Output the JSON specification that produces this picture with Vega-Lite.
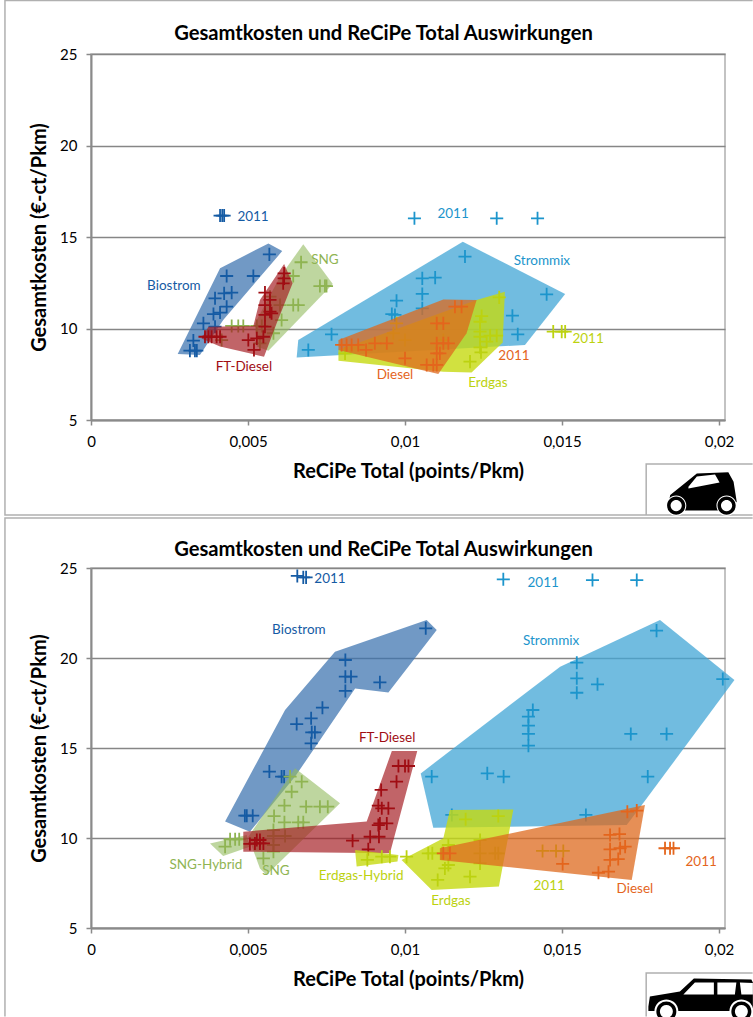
{"$schema":"https://vega.github.io/schema/vega-lite/v6.json","padding":{"left":1,"top":-4,"right":0,"bottom":0},"spacing":-5,"background":"white",
"config":{"font":"Lato","view":{"stroke":"#b0b0b0","strokeWidth":1.5},"axis":{"labelFont":"Lato","titleFont":"Lato"}},
"datasets":{
"pts1":[
{"g":"Biostrom","x":0.00568,"y":14.05},{"g":"Biostrom","x":0.00432,"y":12.87},{"g":"Biostrom","x":0.00517,"y":12.87},{"g":"Biostrom","x":0.00448,"y":11.96},{"g":"Biostrom","x":0.00424,"y":11.92},{"g":"Biostrom","x":0.00395,"y":11.65},{"g":"Biostrom","x":0.00432,"y":11.19},{"g":"Biostrom","x":0.00411,"y":10.87},{"g":"Biostrom","x":0.0039,"y":10.79},{"g":"Biostrom","x":0.00358,"y":10.28},{"g":"Biostrom","x":0.00395,"y":10.1},{"g":"Biostrom","x":0.00326,"y":9.34},{"g":"Biostrom","x":0.00315,"y":8.79},{"g":"Biostrom","x":0.00337,"y":8.79},{"g":"Biostrom","x":0.00331,"y":8.79},{"g":"Biostrom","x":0.00411,"y":16.17},{"g":"Biostrom","x":0.00424,"y":16.17},{"g":"Biostrom","x":0.00418,"y":16.17},
{"g":"Strommix","x":0.00692,"y":8.83},{"g":"Strommix","x":0.00766,"y":9.68},{"g":"Strommix","x":0.00958,"y":10.79},{"g":"Strommix","x":0.00968,"y":10.74},{"g":"Strommix","x":0.00973,"y":11.52},{"g":"Strommix","x":0.01055,"y":12.74},{"g":"Strommix","x":0.01096,"y":12.78},{"g":"Strommix","x":0.01055,"y":11.89},{"g":"Strommix","x":0.01055,"y":11.1},{"g":"Strommix","x":0.01191,"y":13.93},{"g":"Strommix","x":0.01451,"y":11.87},{"g":"Strommix","x":0.01342,"y":10.7},{"g":"Strommix","x":0.01359,"y":9.68},{"g":"Strommix","x":0.0103,"y":16.02},{"g":"Strommix","x":0.01292,"y":16.02},{"g":"Strommix","x":0.01422,"y":16.02},
{"g":"SNG","x":0.00669,"y":13.62},{"g":"SNG","x":0.00729,"y":12.32},{"g":"SNG","x":0.0075,"y":12.32},{"g":"SNG","x":0.00745,"y":12.32},{"g":"SNG","x":0.0066,"y":11.28},{"g":"SNG","x":0.00644,"y":11.28},{"g":"SNG","x":0.00607,"y":10.46},{"g":"SNG","x":0.00581,"y":9.74},{"g":"SNG","x":0.00469,"y":10.14},{"g":"SNG","x":0.00448,"y":10.14},{"g":"SNG","x":0.00485,"y":10.14},{"g":"SNG","x":0.00544,"y":10.14},{"g":"SNG","x":0.00538,"y":9.19},{"g":"SNG","x":0.00416,"y":9.37},{"g":"SNG","x":0.00644,"y":12.87},{"g":"SNG","x":0.00602,"y":11.28},{"g":"SNG","x":0.0057,"y":11.74},{"g":"SNG","x":0.00528,"y":10.14},
{"g":"FT-Diesel","x":0.00615,"y":13.01},{"g":"FT-Diesel","x":0.00615,"y":12.74},{"g":"FT-Diesel","x":0.00612,"y":12.47},{"g":"FT-Diesel","x":0.00554,"y":11.96},{"g":"FT-Diesel","x":0.0057,"y":11.56},{"g":"FT-Diesel","x":0.00554,"y":11.28},{"g":"FT-Diesel","x":0.0057,"y":10.92},{"g":"FT-Diesel","x":0.00554,"y":10.74},{"g":"FT-Diesel","x":0.00575,"y":10.83},{"g":"FT-Diesel","x":0.00554,"y":10.1},{"g":"FT-Diesel","x":0.00549,"y":9.55},{"g":"FT-Diesel","x":0.00501,"y":9.37},{"g":"FT-Diesel","x":0.00528,"y":9.46},{"g":"FT-Diesel","x":0.00519,"y":8.83},{"g":"FT-Diesel","x":0.00374,"y":9.55},{"g":"FT-Diesel","x":0.00384,"y":9.55},{"g":"FT-Diesel","x":0.004,"y":9.55},{"g":"FT-Diesel","x":0.00411,"y":9.55},{"g":"FT-Diesel","x":0.00363,"y":9.55},
{"g":"Erdgas","x":0.013,"y":11.7},{"g":"Erdgas","x":0.01244,"y":10.68},{"g":"Erdgas","x":0.01239,"y":10.37},{"g":"Erdgas","x":0.01239,"y":9.83},{"g":"Erdgas","x":0.01239,"y":9.55},{"g":"Erdgas","x":0.01239,"y":8.97},{"g":"Erdgas","x":0.01242,"y":8.7},{"g":"Erdgas","x":0.01207,"y":8.19},{"g":"Erdgas","x":0.01292,"y":9.61},{"g":"Erdgas","x":0.01271,"y":9.61},{"g":"Erdgas","x":0.0126,"y":9.28},{"g":"Erdgas","x":0.00809,"y":8.64},{"g":"Erdgas","x":0.01472,"y":9.83},{"g":"Erdgas","x":0.01499,"y":9.83},{"g":"Erdgas","x":0.0151,"y":9.83},{"g":"Erdgas","x":0.00973,"y":10.28},{"g":"Erdgas","x":0.00963,"y":9.74},{"g":"Erdgas","x":0.01122,"y":9.37},{"g":"Erdgas","x":0.01,"y":9.37},
{"g":"Diesel","x":0.00798,"y":9.1},{"g":"Diesel","x":0.00814,"y":9.1},{"g":"Diesel","x":0.0083,"y":9.1},{"g":"Diesel","x":0.00851,"y":9.1},{"g":"Diesel","x":0.00876,"y":8.83},{"g":"Diesel","x":0.00904,"y":9.19},{"g":"Diesel","x":0.00942,"y":9.19},{"g":"Diesel","x":0.01,"y":8.37},{"g":"Diesel","x":0.01069,"y":8.01},{"g":"Diesel","x":0.0109,"y":8.01},{"g":"Diesel","x":0.01101,"y":8.01},{"g":"Diesel","x":0.01111,"y":8.64},{"g":"Diesel","x":0.01101,"y":8.64},{"g":"Diesel","x":0.01122,"y":10.28},{"g":"Diesel","x":0.01101,"y":10.28},{"g":"Diesel","x":0.01122,"y":9.19},{"g":"Diesel","x":0.01101,"y":9.19},{"g":"Diesel","x":0.01138,"y":9.19},{"g":"Diesel","x":0.01159,"y":11.19},{"g":"Diesel","x":0.0118,"y":11.19}
],
"pts2":[
{"g":"Biostrom","x":0.01066,"y":21.65},{"g":"Biostrom","x":0.0081,"y":19.89},{"g":"Biostrom","x":0.0081,"y":18.96},{"g":"Biostrom","x":0.00828,"y":18.96},{"g":"Biostrom","x":0.0092,"y":18.65},{"g":"Biostrom","x":0.0081,"y":18.17},{"g":"Biostrom","x":0.00737,"y":17.24},{"g":"Biostrom","x":0.00701,"y":16.65},{"g":"Biostrom","x":0.00655,"y":16.33},{"g":"Biostrom","x":0.00713,"y":15.87},{"g":"Biostrom","x":0.00703,"y":15.87},{"g":"Biostrom","x":0.00701,"y":15.26},{"g":"Biostrom","x":0.00568,"y":13.69},{"g":"Biostrom","x":0.00615,"y":13.41},{"g":"Biostrom","x":0.00607,"y":13.41},{"g":"Biostrom","x":0.00496,"y":11.24},{"g":"Biostrom","x":0.00515,"y":11.24},{"g":"Biostrom","x":0.0049,"y":11.24},{"g":"Biostrom","x":0.00657,"y":24.56},{"g":"Biostrom","x":0.00676,"y":24.48},{"g":"Biostrom","x":0.00685,"y":24.48},
{"g":"Strommix","x":0.01313,"y":24.37},{"g":"Strommix","x":0.01597,"y":24.33},{"g":"Strommix","x":0.01738,"y":24.33},{"g":"Strommix","x":0.01801,"y":21.52},{"g":"Strommix","x":0.01547,"y":19.74},{"g":"Strommix","x":0.01547,"y":18.87},{"g":"Strommix","x":0.01547,"y":18.07},{"g":"Strommix","x":0.01613,"y":18.54},{"g":"Strommix","x":0.02012,"y":18.83},{"g":"Strommix","x":0.01407,"y":17.11},{"g":"Strommix","x":0.01393,"y":16.74},{"g":"Strommix","x":0.01393,"y":16.24},{"g":"Strommix","x":0.01393,"y":15.78},{"g":"Strommix","x":0.01393,"y":15.13},{"g":"Strommix","x":0.01719,"y":15.78},{"g":"Strommix","x":0.01833,"y":15.78},{"g":"Strommix","x":0.01085,"y":13.41},{"g":"Strommix","x":0.01262,"y":13.59},{"g":"Strommix","x":0.01314,"y":13.41},{"g":"Strommix","x":0.01773,"y":13.41},{"g":"Strommix","x":0.01149,"y":11.28},{"g":"Strommix","x":0.01576,"y":11.28},
{"g":"SNG","x":0.00634,"y":13.41},{"g":"SNG","x":0.00671,"y":13.13},{"g":"SNG","x":0.00639,"y":12.57},{"g":"SNG","x":0.00616,"y":11.8},{"g":"SNG","x":0.00685,"y":11.74},{"g":"SNG","x":0.00729,"y":11.74},{"g":"SNG","x":0.00754,"y":11.74},{"g":"SNG","x":0.00583,"y":11.22},{"g":"SNG","x":0.00616,"y":10.87},{"g":"SNG","x":0.0066,"y":10.87},{"g":"SNG","x":0.00676,"y":10.87},{"g":"SNG","x":0.00581,"y":10.44},{"g":"SNG","x":0.00618,"y":10.11},{"g":"SNG","x":0.00581,"y":10.11},{"g":"SNG","x":0.00581,"y":9.61},{"g":"SNG","x":0.00581,"y":9.24},{"g":"SNG","x":0.00549,"y":8.87},
{"g":"SNG-Hybrid","x":0.00427,"y":9.52},{"g":"SNG-Hybrid","x":0.00443,"y":9.93},{"g":"SNG-Hybrid","x":0.00472,"y":9.93},{"g":"SNG-Hybrid","x":0.00459,"y":9.93},
{"g":"FT-Diesel","x":0.00979,"y":14},{"g":"FT-Diesel","x":0.01,"y":14},{"g":"FT-Diesel","x":0.01011,"y":14},{"g":"FT-Diesel","x":0.00973,"y":13.13},{"g":"FT-Diesel","x":0.00924,"y":12.67},{"g":"FT-Diesel","x":0.00915,"y":11.8},{"g":"FT-Diesel","x":0.00947,"y":11.65},{"g":"FT-Diesel","x":0.00926,"y":11.65},{"g":"FT-Diesel","x":0.0092,"y":10.81},{"g":"FT-Diesel","x":0.00942,"y":10.81},{"g":"FT-Diesel","x":0.00915,"y":10.72},{"g":"FT-Diesel","x":0.00917,"y":10.07},{"g":"FT-Diesel","x":0.00889,"y":10.07},{"g":"FT-Diesel","x":0.00833,"y":9.85},{"g":"FT-Diesel","x":0.00883,"y":9.37},{"g":"FT-Diesel","x":0.00506,"y":9.67},{"g":"FT-Diesel","x":0.00522,"y":9.7},{"g":"FT-Diesel","x":0.00538,"y":9.7},{"g":"FT-Diesel","x":0.00549,"y":9.7},{"g":"FT-Diesel","x":0.00528,"y":9.89},{"g":"FT-Diesel","x":0.00538,"y":9.89},
{"g":"Erdgas-Hybrid","x":0.0088,"y":8.78},{"g":"Erdgas-Hybrid","x":0.00926,"y":8.96},{"g":"Erdgas-Hybrid","x":0.00952,"y":8.96},{"g":"Erdgas-Hybrid","x":0.01005,"y":8.96},
{"g":"Erdgas","x":0.01087,"y":9.15},{"g":"Erdgas","x":0.01074,"y":9.15},{"g":"Erdgas","x":0.01117,"y":9.15},{"g":"Erdgas","x":0.01138,"y":9.61},{"g":"Erdgas","x":0.01193,"y":11.04},{"g":"Erdgas","x":0.01297,"y":11.22},{"g":"Erdgas","x":0.01239,"y":9.89},{"g":"Erdgas","x":0.01239,"y":9.15},{"g":"Erdgas","x":0.01239,"y":8.59},{"g":"Erdgas","x":0.01287,"y":9.15},{"g":"Erdgas","x":0.01297,"y":9.15},{"g":"Erdgas","x":0.01138,"y":8.5},{"g":"Erdgas","x":0.01127,"y":8.31},{"g":"Erdgas","x":0.01207,"y":7.85},{"g":"Erdgas","x":0.01104,"y":7.67},{"g":"Erdgas","x":0.01438,"y":9.28},{"g":"Erdgas","x":0.01481,"y":9.28},{"g":"Erdgas","x":0.01504,"y":9.28},
{"g":"Diesel","x":0.01122,"y":9.15},{"g":"Diesel","x":0.01143,"y":9.15},{"g":"Diesel","x":0.01708,"y":11.46},{"g":"Diesel","x":0.01738,"y":11.52},{"g":"Diesel","x":0.01502,"y":8.56},{"g":"Diesel","x":0.01653,"y":10.17},{"g":"Diesel","x":0.01683,"y":10.22},{"g":"Diesel","x":0.01653,"y":9.37},{"g":"Diesel","x":0.01685,"y":9.43},{"g":"Diesel","x":0.01701,"y":9.52},{"g":"Diesel","x":0.01653,"y":8.78},{"g":"Diesel","x":0.01679,"y":8.83},{"g":"Diesel","x":0.01616,"y":8.07},{"g":"Diesel","x":0.01648,"y":8.13},{"g":"Diesel","x":0.01828,"y":9.43},{"g":"Diesel","x":0.01844,"y":9.43},{"g":"Diesel","x":0.01855,"y":9.43}
],
"poly1":[
{"g":"Strommix","o":1,"x":0.0066,"y":9.37},{"g":"Strommix","o":2,"x":0.01184,"y":14.74},{"g":"Strommix","o":3,"x":0.0151,"y":11.89},{"g":"Strommix","o":4,"x":0.01382,"y":9.1},{"g":"Strommix","o":5,"x":0.00655,"y":8.41},
{"g":"Biostrom","o":1,"x":0.00276,"y":8.61},{"g":"Biostrom","o":2,"x":0.00411,"y":13.29},{"g":"Biostrom","o":3,"x":0.00565,"y":14.65},{"g":"Biostrom","o":4,"x":0.00609,"y":14.23},{"g":"Biostrom","o":5,"x":0.00421,"y":10.46},{"g":"Biostrom","o":6,"x":0.00347,"y":8.55},
{"g":"SNG","o":1,"x":0.00676,"y":14.6},{"g":"SNG","o":2,"x":0.0077,"y":12.43},{"g":"SNG","o":3,"x":0.00565,"y":8.79},{"g":"SNG","o":4,"x":0.00528,"y":9.01},{"g":"SNG","o":5,"x":0.00522,"y":10.28},{"g":"SNG","o":6,"x":0.00602,"y":12.83},
{"g":"FT-Diesel","o":1,"x":0.00615,"y":13.52},{"g":"FT-Diesel","o":2,"x":0.00642,"y":12.47},{"g":"FT-Diesel","o":3,"x":0.00591,"y":10.28},{"g":"FT-Diesel","o":4,"x":0.00551,"y":8.46},{"g":"FT-Diesel","o":5,"x":0.00411,"y":9.01},{"g":"FT-Diesel","o":6,"x":0.00352,"y":9.46},{"g":"FT-Diesel","o":7,"x":0.00374,"y":10.1},{"g":"FT-Diesel","o":8,"x":0.00517,"y":10.14},{"g":"FT-Diesel","o":9,"x":0.00538,"y":11.56},
{"g":"Erdgas","o":1,"x":0.00788,"y":8.83},{"g":"Erdgas","o":2,"x":0.01228,"y":11.56},{"g":"Erdgas","o":3,"x":0.01318,"y":12.01},{"g":"Erdgas","o":4,"x":0.01311,"y":9.23},{"g":"Erdgas","o":5,"x":0.01212,"y":7.59},{"g":"Erdgas","o":6,"x":0.01122,"y":7.64},{"g":"Erdgas","o":7,"x":0.00788,"y":8.24},
{"g":"Diesel","o":1,"x":0.00788,"y":9.37},{"g":"Diesel","o":2,"x":0.01122,"y":11.59},{"g":"Diesel","o":3,"x":0.01228,"y":11.56},{"g":"Diesel","o":4,"x":0.01196,"y":9.74},{"g":"Diesel","o":5,"x":0.01106,"y":7.51},{"g":"Diesel","o":6,"x":0.00788,"y":8.83}
],
"poly2":[
{"g":"Strommix","o":1,"x":0.0105,"y":13.59},{"g":"Strommix","o":2,"x":0.01494,"y":19.52},{"g":"Strommix","o":3,"x":0.01812,"y":22.11},{"g":"Strommix","o":4,"x":0.02049,"y":18.78},{"g":"Strommix","o":5,"x":0.01754,"y":11.83},{"g":"Strommix","o":6,"x":0.01706,"y":10.72},{"g":"Strommix","o":7,"x":0.0109,"y":10.57},
{"g":"Biostrom","o":1,"x":0.00427,"y":10.91},{"g":"Biostrom","o":2,"x":0.00618,"y":17.11},{"g":"Biostrom","o":3,"x":0.00777,"y":20.35},{"g":"Biostrom","o":4,"x":0.01069,"y":22.11},{"g":"Biostrom","o":5,"x":0.01101,"y":21.56},{"g":"Biostrom","o":6,"x":0.00947,"y":18.09},{"g":"Biostrom","o":7,"x":0.00841,"y":18.31},{"g":"Biostrom","o":8,"x":0.0065,"y":13.41},{"g":"Biostrom","o":9,"x":0.00506,"y":10.35},
{"g":"SNG","o":1,"x":0.0065,"y":13.87},{"g":"SNG","o":2,"x":0.00793,"y":11.93},{"g":"SNG","o":3,"x":0.00559,"y":7.94},{"g":"SNG","o":4,"x":0.00538,"y":8.31},{"g":"SNG","o":5,"x":0.00501,"y":10.07},{"g":"SNG","o":6,"x":0.00581,"y":12.11},
{"g":"SNG-Hybrid","o":1,"x":0.00379,"y":9.7},{"g":"SNG-Hybrid","o":2,"x":0.00496,"y":10.17},{"g":"SNG-Hybrid","o":3,"x":0.00506,"y":9.52},{"g":"SNG-Hybrid","o":4,"x":0.00421,"y":9},
{"g":"FT-Diesel","o":1,"x":0.00485,"y":10.35},{"g":"FT-Diesel","o":2,"x":0.00878,"y":10.91},{"g":"FT-Diesel","o":3,"x":0.00958,"y":14.83},{"g":"FT-Diesel","o":4,"x":0.01039,"y":14.83},{"g":"FT-Diesel","o":5,"x":0.00952,"y":9.15},{"g":"FT-Diesel","o":6,"x":0.00485,"y":9.24},
{"g":"Erdgas-Hybrid","o":1,"x":0.00841,"y":9.33},{"g":"Erdgas-Hybrid","o":2,"x":0.00979,"y":9.06},{"g":"Erdgas-Hybrid","o":3,"x":0.00976,"y":8.69},{"g":"Erdgas-Hybrid","o":4,"x":0.00846,"y":8.41},
{"g":"Erdgas","o":1,"x":0.00989,"y":8.78},{"g":"Erdgas","o":2,"x":0.01122,"y":9.98},{"g":"Erdgas","o":3,"x":0.01143,"y":11.56},{"g":"Erdgas","o":4,"x":0.01345,"y":11.59},{"g":"Erdgas","o":5,"x":0.01299,"y":7.3},{"g":"Erdgas","o":6,"x":0.01085,"y":7.11},
{"g":"Diesel","o":1,"x":0.01111,"y":9.43},{"g":"Diesel","o":2,"x":0.01764,"y":11.83},{"g":"Diesel","o":3,"x":0.01722,"y":7.67},{"g":"Diesel","o":4,"x":0.01111,"y":8.78}
],
"labels1":[
{"g":"Biostrom","t":"2011","x":0.00516,"y":16.09},{"g":"Strommix","t":"2011","x":0.01153,"y":16.26},{"g":"Biostrom","t":"Biostrom","x":0.00264,"y":12.32},{"g":"SNG","t":"SNG","x":0.00745,"y":13.74},{"g":"FT-Diesel","t":"FT-Diesel","x":0.00487,"y":7.9},{"g":"Strommix","t":"Strommix","x":0.01436,"y":13.69},{"g":"Erdgas","t":"2011","x":0.01583,"y":9.43},{"g":"Diesel","t":"2011","x":0.01347,"y":8.5},{"g":"Diesel","t":"Diesel","x":0.00968,"y":7.46},{"g":"Erdgas","t":"Erdgas","x":0.01264,"y":7.02}
],
"labels2":[
{"g":"Biostrom","t":"2011","x":0.00761,"y":24.39},{"g":"Strommix","t":"2011","x":0.0144,"y":24.17},{"g":"Biostrom","t":"Biostrom","x":0.00662,"y":21.56},{"g":"Strommix","t":"Strommix","x":0.01465,"y":20.94},{"g":"FT-Diesel","t":"FT-Diesel","x":0.00943,"y":15.56},{"g":"SNG","t":"SNG-Hybrid","x":0.00366,"y":8.5},{"g":"SNG","t":"SNG","x":0.00589,"y":8.17},{"g":"Erdgas","t":"Erdgas-Hybrid","x":0.0086,"y":7.89},{"g":"Erdgas","t":"Erdgas","x":0.01146,"y":6.5},{"g":"Erdgas","t":"2011","x":0.01459,"y":7.33},{"g":"Diesel","t":"Diesel","x":0.01732,"y":7.17},{"g":"Diesel","t":"2011","x":0.01943,"y":8.67}
],
"frame1":[
{"k":"a","o":1,"x":0.02107,"y":27.92},{"k":"a","o":2,"x":-0.00274,"y":27.92},{"k":"a","o":3,"x":-0.00274,"y":-0.19},{"k":"a","o":4,"x":0.02107,"y":-0.19},
{"k":"b","o":1,"x":0.02107,"y":2.6},{"k":"b","o":2,"x":0.01768,"y":2.6},{"k":"b","o":3,"x":0.01768,"y":-0.19}
],
"frame2":[
{"k":"a","o":1,"x":0.02107,"y":27.78},{"k":"a","o":2,"x":-0.00274,"y":27.78},{"k":"a","o":3,"x":-0.00274,"y":0.08},
{"k":"b","o":1,"x":0.02107,"y":2.5},{"k":"b","o":2,"x":0.01768,"y":2.5},{"k":"b","o":3,"x":0.01768,"y":0.08}
],
"car1":[{"x":0.01946,"y":1.01}],
"car2":[{"x":0.01939,"y":1.28}]
},
"vconcat":[
{"width":634,"height":366,
"title":{"text":"Gesamtkosten und ReCiPe Total Auswirkungen","fontSize":20.2,"fontWeight":"bold","font":"Lato","color":"#000","anchor":"middle","dx":-24.5,"offset":-47},
"encoding":{"x":{"field":"x","type":"quantitative","scale":{"domain":[0,0.02019],"nice":false},"axis":{"values":[0,0.005,0.01,0.015,0.02],"labelExpr":"replace(format(datum.value,'.3~f'),'.',',')","labelFlush":false,"grid":false,"title":"ReCiPe Total (points/Pkm)","titleFontSize":20,"titleFontWeight":"bold","titleColor":"#000","titlePadding":12,"labelFontSize":15,"labelColor":"#000","labelPadding":9,"tickColor":"#8a8a8a","tickSize":5,"tickWidth":1.5,"domainColor":"#8a8a8a","domainWidth":2}},
"y":{"field":"y","type":"quantitative","scale":{"domain":[5,25],"nice":false},"axis":{"values":[5,10,15,20,25],"grid":true,"gridColor":"#868686","gridWidth":1.4,"title":"Gesamtkosten (€-ct/Pkm)","titleFontSize":20,"titleFontWeight":"bold","titleColor":"#000","titlePadding":10,"labelFontSize":15,"labelColor":"#000","labelPadding":9,"tickColor":"#8a8a8a","tickSize":5,"tickWidth":1.5,"domainColor":"#8a8a8a","domainWidth":2}}},
"layer":[
{"data":{"name":"frame1"},"mark":{"type":"line","stroke":"#b0b0b0","strokeWidth":1.5},"encoding":{"detail":{"field":"k"},"order":{"field":"o"}}},
{"data":{"name":"poly1"},"transform":[{"filter":"indexof(['Strommix','Biostrom','SNG','SNG-Hybrid'],datum.g)>=0"}],"mark":{"type":"line","stroke":null},"encoding":{"fill":{"field":"g","legend":null,"scale":{"domain":["Biostrom","Strommix","FT-Diesel","SNG","SNG-Hybrid","Erdgas","Erdgas-Hybrid","Diesel"],"range":["rgba(58,114,174,0.72)","rgba(66,165,213,0.75)","rgba(164,27,33,0.68)","rgba(147,187,95,0.6)","rgba(147,187,95,0.6)","rgba(197,218,16,0.8)","rgba(197,218,16,0.8)","rgba(222,106,30,0.75)"]}},"order":{"field":"o"}}},
{"data":{"name":"pts1"},"transform":[{"filter":"indexof(['Strommix','Biostrom','SNG','SNG-Hybrid'],datum.g)>=0"}],"mark":{"type":"point","shape":"M-1,0H1M0,-1V1","size":170,"filled":false,"strokeWidth":1.8,"opacity":1},"encoding":{"color":{"field":"g","legend":null,"scale":{"domain":["Biostrom","Strommix","FT-Diesel","SNG","SNG-Hybrid","Erdgas","Erdgas-Hybrid","Diesel"],"range":["#155ba4","#1c95cc","#a00d13","#8fb452","#8fb452","#bcd20f","#bcd20f","#e4651c"]}}}},
{"data":{"name":"poly1"},"transform":[{"filter":"datum.g=='FT-Diesel'"}],"mark":{"type":"line","stroke":null},"encoding":{"fill":{"field":"g","legend":null},"order":{"field":"o"}}},
{"data":{"name":"pts1"},"transform":[{"filter":"datum.g=='FT-Diesel'"}],"mark":{"type":"point","shape":"M-1,0H1M0,-1V1","size":170,"filled":false,"strokeWidth":1.8,"opacity":1},"encoding":{"color":{"field":"g","legend":null}}},
{"data":{"name":"poly1"},"transform":[{"filter":"datum.g=='Erdgas'||datum.g=='Erdgas-Hybrid'"}],"mark":{"type":"line","stroke":null},"encoding":{"fill":{"field":"g","legend":null},"order":{"field":"o"}}},
{"data":{"name":"pts1"},"transform":[{"filter":"datum.g=='Erdgas'||datum.g=='Erdgas-Hybrid'"}],"mark":{"type":"point","shape":"M-1,0H1M0,-1V1","size":170,"filled":false,"strokeWidth":1.8,"opacity":1},"encoding":{"color":{"field":"g","legend":null}}},
{"data":{"name":"poly1"},"transform":[{"filter":"datum.g=='Diesel'"}],"mark":{"type":"line","stroke":null},"encoding":{"fill":{"field":"g","legend":null},"order":{"field":"o"}}},
{"data":{"name":"pts1"},"transform":[{"filter":"datum.g=='Diesel'"}],"mark":{"type":"point","shape":"M-1,0H1M0,-1V1","size":170,"filled":false,"strokeWidth":1.8,"opacity":1},"encoding":{"color":{"field":"g","legend":null}}},
{"data":{"name":"labels1"},"mark":{"type":"text","fontSize":13.5,"font":"Lato"},"encoding":{"text":{"field":"t"},"color":{"field":"g","legend":null}}},
{"data":{"name":"car1"},"mark":{"type":"point","filled":true,"opacity":1,"size":4900,"strokeWidth":0,"color":"#000","shape":"M-.96,.3L-.91,.06L-.44,-.32L-.15,-.56L.75,-.59L.9,-.32L.99,.25L.9,.34L.9,.5L-.7,.5L-.96,.4Z"}},
{"data":{"name":"car1"},"mark":{"type":"point","filled":true,"opacity":1,"size":4900,"strokeWidth":0,"color":"#fff","shape":"M-.39,-.18L-.15,-.47L.37,-.53L.5,-.3L-.39,-.13ZM-1.03,.36A.29,.29 0 1,0 -.45,.36A.29,.29 0 1,0 -1.03,.36ZM.41,.36A.29,.29 0 1,0 .99,.36A.29,.29 0 1,0 .41,.36Z"}},
{"data":{"name":"car1"},"mark":{"type":"point","filled":true,"opacity":1,"size":4900,"strokeWidth":0,"color":"#000","shape":"M-1,.36A.26,.26 0 1,0 -.48,.36A.26,.26 0 1,0 -1,.36ZM.44,.36A.26,.26 0 1,0 .96,.36A.26,.26 0 1,0 .44,.36Z"}},
{"data":{"name":"car1"},"mark":{"type":"point","filled":true,"opacity":1,"size":4900,"strokeWidth":0,"color":"#fff","shape":"M-.9,.36A.16,.16 0 1,0 -.58,.36A.16,.16 0 1,0 -.9,.36ZM.54,.36A.16,.16 0 1,0 .86,.36A.16,.16 0 1,0 .54,.36Z"}}
]},
{"width":634,"height":360,
"title":{"text":"Gesamtkosten und ReCiPe Total Auswirkungen","fontSize":20.2,"fontWeight":"bold","font":"Lato","color":"#000","anchor":"middle","dx":-24.5,"offset":-45},
"encoding":{"x":{"field":"x","type":"quantitative","scale":{"domain":[0,0.02019],"nice":false},"axis":{"values":[0,0.005,0.01,0.015,0.02],"labelExpr":"replace(format(datum.value,'.3~f'),'.',',')","labelFlush":false,"grid":false,"title":"ReCiPe Total (points/Pkm)","titleFontSize":20,"titleFontWeight":"bold","titleColor":"#000","titlePadding":12,"labelFontSize":15,"labelColor":"#000","labelPadding":9,"tickColor":"#8a8a8a","tickSize":5,"tickWidth":1.5,"domainColor":"#8a8a8a","domainWidth":2}},
"y":{"field":"y","type":"quantitative","scale":{"domain":[5,25],"nice":false},"axis":{"values":[5,10,15,20,25],"grid":true,"gridColor":"#868686","gridWidth":1.4,"title":"Gesamtkosten (€-ct/Pkm)","titleFontSize":20,"titleFontWeight":"bold","titleColor":"#000","titlePadding":10,"labelFontSize":15,"labelColor":"#000","labelPadding":9,"tickColor":"#8a8a8a","tickSize":5,"tickWidth":1.5,"domainColor":"#8a8a8a","domainWidth":2}}},
"layer":[
{"data":{"name":"frame2"},"mark":{"type":"line","stroke":"#b0b0b0","strokeWidth":1.5},"encoding":{"detail":{"field":"k"},"order":{"field":"o"}}},
{"data":{"name":"poly2"},"transform":[{"filter":"indexof(['Strommix','Biostrom','SNG','SNG-Hybrid'],datum.g)>=0"}],"mark":{"type":"line","stroke":null},"encoding":{"fill":{"field":"g","legend":null,"scale":{"domain":["Biostrom","Strommix","FT-Diesel","SNG","SNG-Hybrid","Erdgas","Erdgas-Hybrid","Diesel"],"range":["rgba(58,114,174,0.72)","rgba(66,165,213,0.75)","rgba(164,27,33,0.68)","rgba(147,187,95,0.6)","rgba(147,187,95,0.6)","rgba(197,218,16,0.8)","rgba(197,218,16,0.8)","rgba(222,106,30,0.75)"]}},"order":{"field":"o"}}},
{"data":{"name":"pts2"},"transform":[{"filter":"indexof(['Strommix','Biostrom','SNG','SNG-Hybrid'],datum.g)>=0"}],"mark":{"type":"point","shape":"M-1,0H1M0,-1V1","size":170,"filled":false,"strokeWidth":1.8,"opacity":1},"encoding":{"color":{"field":"g","legend":null,"scale":{"domain":["Biostrom","Strommix","FT-Diesel","SNG","SNG-Hybrid","Erdgas","Erdgas-Hybrid","Diesel"],"range":["#155ba4","#1c95cc","#a00d13","#8fb452","#8fb452","#bcd20f","#bcd20f","#e4651c"]}}}},
{"data":{"name":"poly2"},"transform":[{"filter":"datum.g=='FT-Diesel'"}],"mark":{"type":"line","stroke":null},"encoding":{"fill":{"field":"g","legend":null},"order":{"field":"o"}}},
{"data":{"name":"pts2"},"transform":[{"filter":"datum.g=='FT-Diesel'"}],"mark":{"type":"point","shape":"M-1,0H1M0,-1V1","size":170,"filled":false,"strokeWidth":1.8,"opacity":1},"encoding":{"color":{"field":"g","legend":null}}},
{"data":{"name":"poly2"},"transform":[{"filter":"datum.g=='Erdgas'||datum.g=='Erdgas-Hybrid'"}],"mark":{"type":"line","stroke":null},"encoding":{"fill":{"field":"g","legend":null},"order":{"field":"o"}}},
{"data":{"name":"pts2"},"transform":[{"filter":"datum.g=='Erdgas'||datum.g=='Erdgas-Hybrid'"}],"mark":{"type":"point","shape":"M-1,0H1M0,-1V1","size":170,"filled":false,"strokeWidth":1.8,"opacity":1},"encoding":{"color":{"field":"g","legend":null}}},
{"data":{"name":"poly2"},"transform":[{"filter":"datum.g=='Diesel'"}],"mark":{"type":"line","stroke":null},"encoding":{"fill":{"field":"g","legend":null},"order":{"field":"o"}}},
{"data":{"name":"pts2"},"transform":[{"filter":"datum.g=='Diesel'"}],"mark":{"type":"point","shape":"M-1,0H1M0,-1V1","size":170,"filled":false,"strokeWidth":1.8,"opacity":1},"encoding":{"color":{"field":"g","legend":null}}},
{"data":{"name":"labels2"},"mark":{"type":"text","fontSize":13.5,"font":"Lato"},"encoding":{"text":{"field":"t"},"color":{"field":"g","legend":null}}},
{"data":{"name":"car2"},"mark":{"type":"point","filled":true,"opacity":1,"size":10000,"strokeWidth":0,"color":"#000","shape":"M-1.03,.23L-1,.03L-.4,-.07L-.12,-.33L1.03,-.31L1.06,-.25L1.06,.32L-1.03,.32Z"}},
{"data":{"name":"car2"},"mark":{"type":"point","filled":true,"opacity":1,"size":10000,"strokeWidth":0,"color":"#fff","shape":"M-.33,-.01L-.1,-.25L.28,-.25L.28,-.01ZM.35,-.25L.73,-.25L.7,-.01L.35,-.01ZM.8,-.25L1.06,-.24L1.06,-.01L.83,-.01ZM-.883,.44A.24,.24 0 1,1 -.457,.44ZM.617,.44A.24,.24 0 1,1 1.043,.44Z"}},
{"data":{"name":"car2"},"mark":{"type":"point","filled":true,"opacity":1,"size":10000,"strokeWidth":0,"color":"#000","shape":"M-.837,.44A.2,.2 0 1,1 -.503,.44ZM.663,.44A.2,.2 0 1,1 .997,.44Z"}},
{"data":{"name":"car2"},"mark":{"type":"point","filled":true,"opacity":1,"size":10000,"strokeWidth":0,"color":"#fff","shape":"M-.739,.44A.13,.13 0 1,1 -.601,.44ZM.761,.44A.13,.13 0 1,1 .899,.44Z"}}
]}
]}
